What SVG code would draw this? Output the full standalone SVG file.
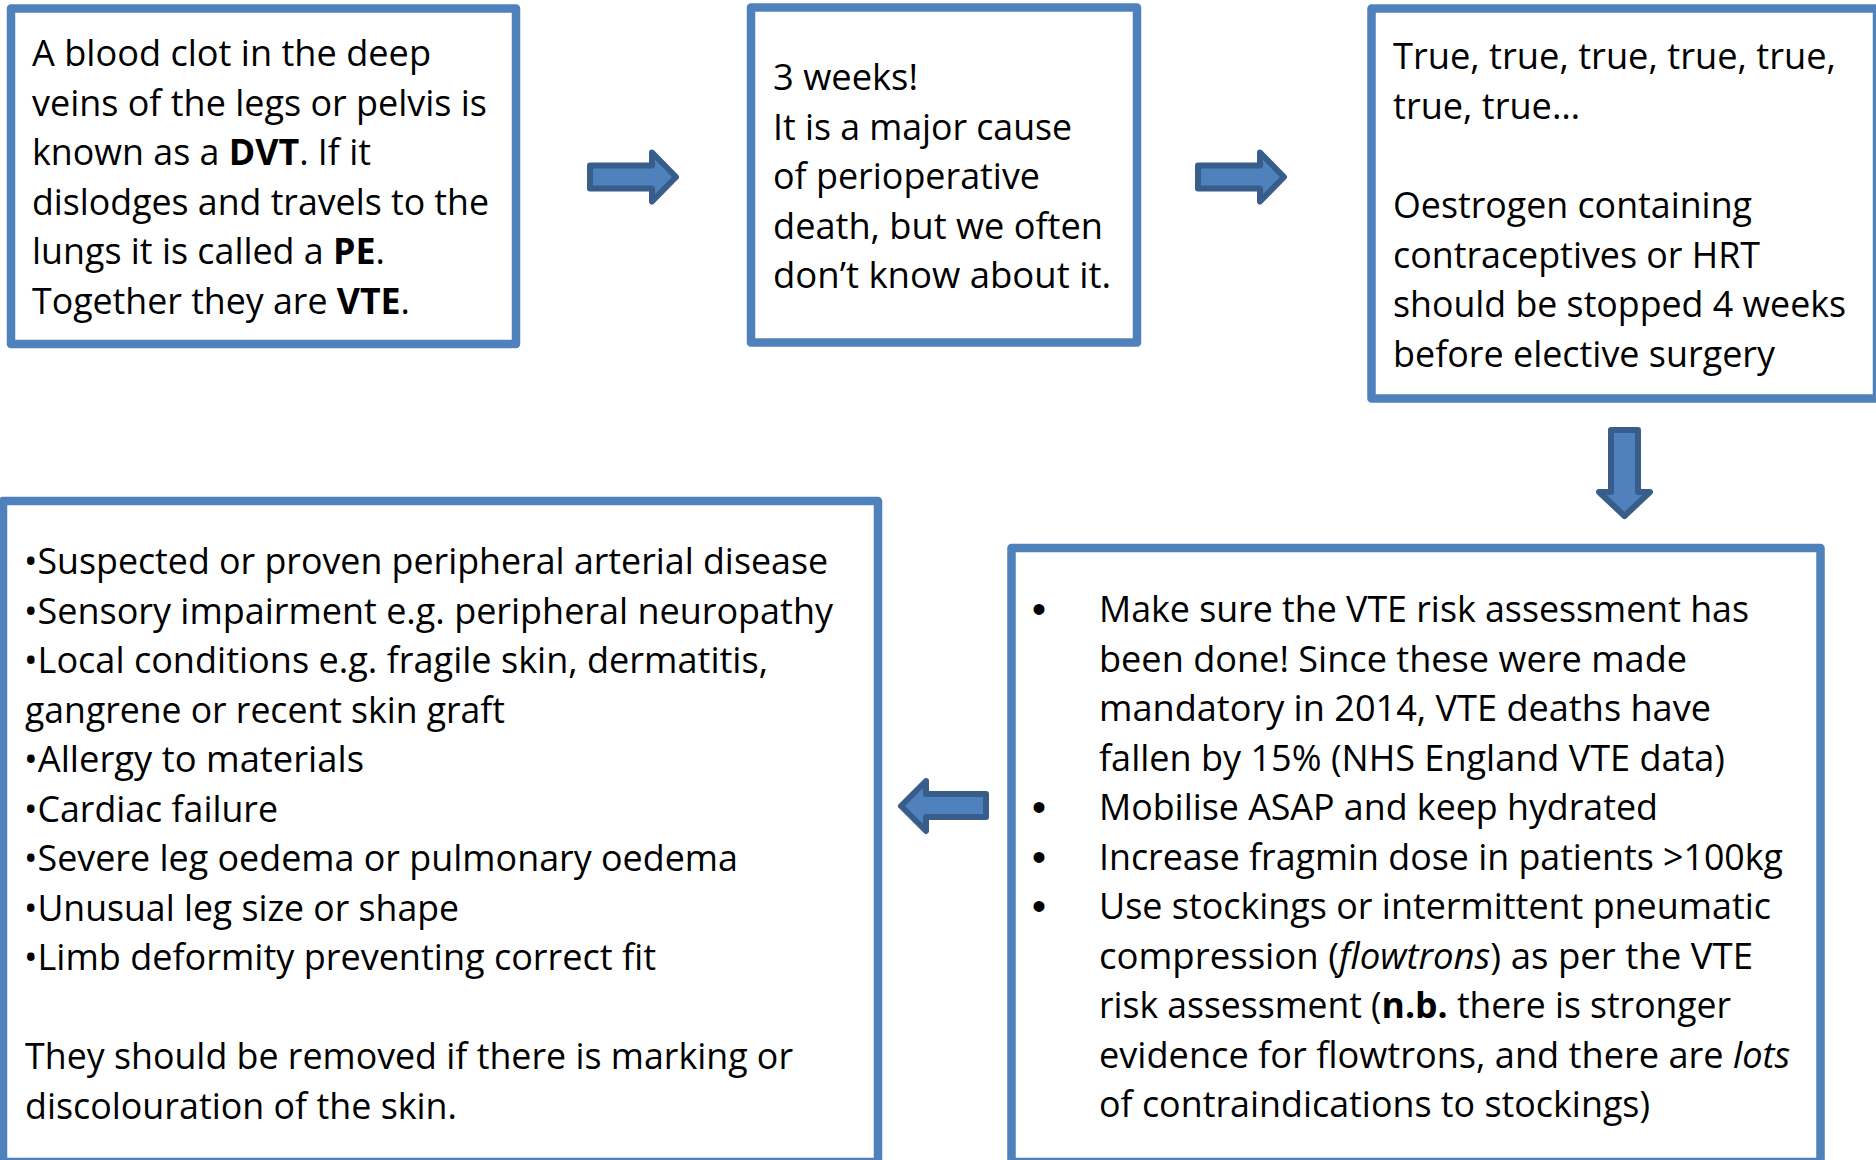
<svg xmlns="http://www.w3.org/2000/svg" width="1876" height="1160" viewBox="0 0 1876 1160">
<style>
.box{fill:#FFFFFF;stroke:#4F81BD;stroke-width:8.5;stroke-linejoin:round}
.arr{fill:#4F81BD;stroke:#385D8A;stroke-width:6;stroke-linejoin:round}
text{font-family:"Open Sans","Liberation Sans",sans-serif;font-size:36px;fill:#000000}
.b{font-weight:bold}
.i{font-style:italic}
.bul{font-family:"Liberation Sans",sans-serif;font-size:40px}
</style>
<rect width="1876" height="1160" fill="#FFFFFF"/>
<g id="connectors">
<path class="arr" d="M590,165.5 H652 V152.5 L676,177 L652,201.5 V188.5 H590 Z"/>
<path class="arr" d="M1198,165.5 H1260 V152.5 L1284,177 L1260,201.5 V188.5 H1198 Z"/>
<path class="arr" d="M1611,430 V492 H1599 L1624.5,516 L1650,492 H1638 V430 Z"/>
<path class="arr" d="M986,794 H926 V781 L901,806 L926,831 V817 H986 Z"/>
</g>
<g id="node-definition">
<rect class="box" x="11" y="8.5" width="505" height="335.5"/>
<text x="32" y="66" textLength="399" lengthAdjust="spacingAndGlyphs">A blood clot in the deep</text>
<text x="32" y="115.5" textLength="455" lengthAdjust="spacingAndGlyphs">veins of the legs or pelvis is</text>
<text x="32" y="165" textLength="339" lengthAdjust="spacingAndGlyphs">known as a <tspan class="b">DVT</tspan>. If it</text>
<text x="32" y="214.5" textLength="457" lengthAdjust="spacingAndGlyphs">dislodges and travels to the</text>
<text x="32" y="264" textLength="353" lengthAdjust="spacingAndGlyphs">lungs it is called a <tspan class="b">PE</tspan>.</text>
<text x="32" y="313.5" textLength="378" lengthAdjust="spacingAndGlyphs">Together they are <tspan class="b">VTE</tspan>.</text>
</g>
<g id="node-mortality">
<rect class="box" x="751" y="7.5" width="386" height="335"/>
<text x="773" y="90" textLength="145" lengthAdjust="spacingAndGlyphs">3 weeks!</text>
<text x="773" y="139.5" textLength="299" lengthAdjust="spacingAndGlyphs">It is a major cause</text>
<text x="773" y="189" textLength="267" lengthAdjust="spacingAndGlyphs">of perioperative</text>
<text x="773" y="238.5" textLength="330" lengthAdjust="spacingAndGlyphs">death, but we often</text>
<text x="773" y="288" textLength="338" lengthAdjust="spacingAndGlyphs">don’t know about it.</text>
</g>
<g id="node-risk-factors">
<rect class="box" x="1371.5" y="8.5" width="505.5" height="390"/>
<text x="1393" y="69" textLength="443" lengthAdjust="spacingAndGlyphs">True, true, true, true, true,</text>
<text x="1393" y="118.5" textLength="187" lengthAdjust="spacingAndGlyphs">true, true…</text>
<text x="1393" y="218" textLength="359" lengthAdjust="spacingAndGlyphs">Oestrogen containing</text>
<text x="1393" y="267.5" textLength="367" lengthAdjust="spacingAndGlyphs">contraceptives or HRT</text>
<text x="1393" y="317" textLength="453" lengthAdjust="spacingAndGlyphs">should be stopped 4 weeks</text>
<text x="1393" y="366.5" textLength="382" lengthAdjust="spacingAndGlyphs">before elective surgery</text>
</g>
<g id="node-prevention">
<rect class="box" x="1011.5" y="548" width="809" height="614"/>
<text class="bul" x="1032" y="623">•</text>
<text class="bul" x="1032" y="821">•</text>
<text class="bul" x="1032" y="870.5">•</text>
<text class="bul" x="1032" y="920">•</text>
<text x="1099" y="622" textLength="650" lengthAdjust="spacingAndGlyphs">Make sure the VTE risk assessment has</text>
<text x="1099" y="671.5" textLength="588" lengthAdjust="spacingAndGlyphs">been done! Since these were made</text>
<text x="1099" y="721" textLength="612" lengthAdjust="spacingAndGlyphs">mandatory in 2014, VTE deaths have</text>
<text x="1099" y="770.5" textLength="626" lengthAdjust="spacingAndGlyphs">fallen by 15% (NHS England VTE data)</text>
<text x="1099" y="820" textLength="559" lengthAdjust="spacingAndGlyphs">Mobilise ASAP and keep hydrated</text>
<text x="1099" y="869.5" textLength="684" lengthAdjust="spacingAndGlyphs">Increase fragmin dose in patients &gt;100kg</text>
<text x="1099" y="919" textLength="672" lengthAdjust="spacingAndGlyphs">Use stockings or intermittent pneumatic</text>
<text x="1099" y="968.5" textLength="654" lengthAdjust="spacingAndGlyphs">compression (<tspan class="i">flowtrons</tspan>) as per the VTE</text>
<text x="1099" y="1018" textLength="632" lengthAdjust="spacingAndGlyphs">risk assessment (<tspan class="b">n.b.</tspan> there is stronger</text>
<text x="1099" y="1067.5" textLength="691" lengthAdjust="spacingAndGlyphs">evidence for flowtrons, and there are <tspan class="i">lots</tspan></text>
<text x="1099" y="1117" textLength="551" lengthAdjust="spacingAndGlyphs">of contraindications to stockings)</text>
</g>
<g id="node-contraindications">
<rect class="box" x="3" y="501" width="875" height="661"/>
<text x="24" y="574" textLength="804" lengthAdjust="spacingAndGlyphs">•Suspected or proven peripheral arterial disease</text>
<text x="24" y="623.5" textLength="809" lengthAdjust="spacingAndGlyphs">•Sensory impairment e.g. peripheral neuropathy</text>
<text x="24" y="673" textLength="744" lengthAdjust="spacingAndGlyphs">•Local conditions e.g. fragile skin, dermatitis,</text>
<text x="25" y="722.5" textLength="480" lengthAdjust="spacingAndGlyphs">gangrene or recent skin graft</text>
<text x="24" y="772" textLength="340" lengthAdjust="spacingAndGlyphs">•Allergy to materials</text>
<text x="24" y="821.5" textLength="254" lengthAdjust="spacingAndGlyphs">•Cardiac failure</text>
<text x="24" y="871" textLength="714" lengthAdjust="spacingAndGlyphs">•Severe leg oedema or pulmonary oedema</text>
<text x="24" y="920.5" textLength="435" lengthAdjust="spacingAndGlyphs">•Unusual leg size or shape</text>
<text x="24" y="970" textLength="632" lengthAdjust="spacingAndGlyphs">•Limb deformity preventing correct fit</text>
<text x="25" y="1069" textLength="768" lengthAdjust="spacingAndGlyphs">They should be removed if there is marking or</text>
<text x="25" y="1118.5" textLength="432" lengthAdjust="spacingAndGlyphs">discolouration of the skin.</text>
</g>
</svg>
